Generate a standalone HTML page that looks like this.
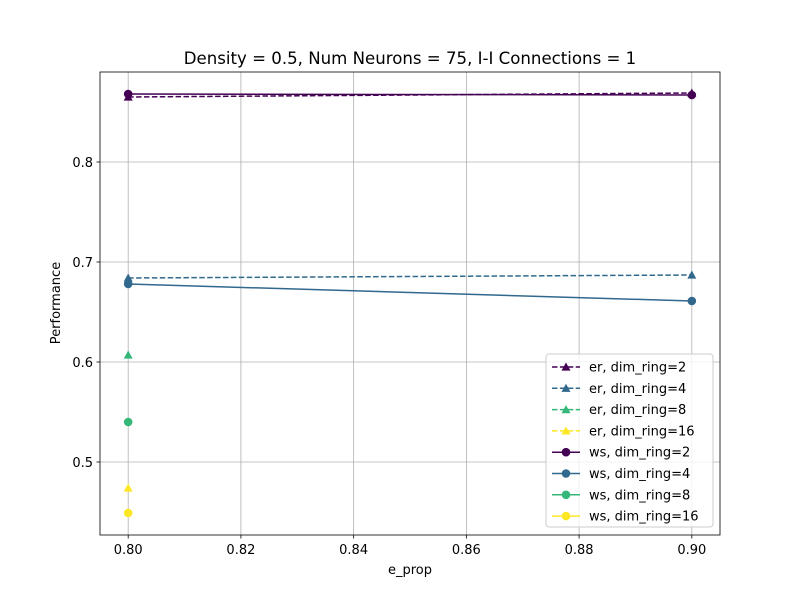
<!DOCTYPE html>
<html><head><meta charset="utf-8"><style>
body{margin:0;background:#fff}
svg{font-family:"DejaVu Sans","Liberation Sans",sans-serif}
</style></head><body>
<svg id="chart" width="800" height="600" xmlns="http://www.w3.org/2000/svg">
<rect width="800" height="600" fill="#fff"/>
<g id="grid"></g>
<g id="axes"></g>
<g id="series"></g>
<g id="legend"></g>
</svg>
<script>
const xCats = [0.80, 0.90];
const xTicks = [0.80, 0.82, 0.84, 0.86, 0.88, 0.90];
const yTicks = [0.5, 0.6, 0.7, 0.8];
const seriesNames = ["er, dim_ring=2","er, dim_ring=4","er, dim_ring=8","er, dim_ring=16","ws, dim_ring=2","ws, dim_ring=4","ws, dim_ring=8","ws, dim_ring=16"];
const er2 = [0.865, 0.869];
const er4 = [0.684, 0.687];
const er8 = [0.607];
const er16 = [0.474];
const ws2 = [0.868, 0.867];
const ws4 = [0.678, 0.661];
const ws8 = [0.540];
const ws16 = [0.449];
const colors = ["#440154","#31688e","#35b779","#fde725"];

const NS="http://www.w3.org/2000/svg";
const L=100,R=720,T=72,B=535;
const xMin=0.795,xMax=0.905;
const sx=v=>L+(v-xMin)/(xMax-xMin)*(R-L);
const sy=v=>162-(v-0.8)*1000;
function mk(tag,attrs,parent,text){const e=document.createElementNS(NS,tag);for(const k in attrs)e.setAttribute(k,attrs[k]);if(text!==undefined)e.textContent=text;parent.appendChild(e);return e;}
const grid=document.getElementById('grid'),axes=document.getElementById('axes'),ser=document.getElementById('series'),leg=document.getElementById('legend');

xTicks.forEach(t=>{const x=sx(t);
 const g=mk('line',{x1:x,x2:x,y1:T,y2:B,stroke:'#b0b0b0','stroke-width':0.8},grid);
 
 mk('line',{x1:x,x2:x,y1:B,y2:B+3.5,stroke:'#000','stroke-width':0.8},axes);
 const tl=mk('text',{x:x,y:B+19,'font-size':13,'text-anchor':'middle'},axes,t.toFixed(2));
 });
yTicks.forEach(t=>{const y=sy(t);
 const g=mk('line',{x1:L,x2:R,y1:y,y2:y,stroke:'#b0b0b0','stroke-width':0.8},grid);
 
 mk('line',{x1:L-3.5,x2:L,y1:y,y2:y,stroke:'#000','stroke-width':0.8},axes);
 const tl=mk('text',{x:L-7,y:y+5,'font-size':13,'text-anchor':'end'},axes,t.toFixed(1));
 });
const frame=mk('rect',{x:L,y:T,width:R-L,height:B-T,fill:'none',stroke:'#000','stroke-width':0.8},axes);

const title=mk('text',{x:410,y:64,'font-size':16.6,'text-anchor':'middle'},axes,'Density = 0.5, Num Neurons = 75, I-I Connections = 1');

const xt=mk('text',{x:410,y:574,'font-size':13,'text-anchor':'middle'},axes,'e_prop');

const yt=mk('text',{x:0,y:0,'font-size':13,'text-anchor':'middle',transform:'translate(60,303) rotate(-90)'},axes,'Performance');


function tri(cx,cy,s,c,p){return mk('polygon',{points:`${cx},${cy-s} ${cx-s},${cy+s*0.8} ${cx+s},${cy+s*0.8}`,fill:c},p);}
const all=[er2,er4,er8,er16,ws2,ws4,ws8,ws16];
all.forEach((vals,i)=>{const c=colors[i%4],er=i<4;
 const g=mk('g',{},ser);
 
 
 if(vals.length>1){const pts=vals.map((v,j)=>sx(xCats[j])+','+sy(v)).join(' ');
  mk('polyline',{points:pts,fill:'none',stroke:c,'stroke-width':1.5,'stroke-dasharray':er?'5.5,2.4':''},g);}
 vals.forEach((v,j)=>{const m=er?tri(sx(xCats[j]),sy(v),4.5,c,g):mk('circle',{cx:sx(xCats[j]),cy:sy(v),r:4.3,fill:c},g);
  });
});
const lb=mk('rect',{x:546,y:354,width:167,height:173,rx:3,fill:'#fff','fill-opacity':0.8,stroke:'#ccc','stroke-width':1},leg);

seriesNames.forEach((n,i)=>{const y=367+i*21.3,c=colors[i%4],er=i<4;
 const g=mk('g',{},leg);
 
 mk('line',{x1:552,x2:580,y1:y,y2:y,stroke:c,'stroke-width':1.5,'stroke-dasharray':er?'5.5,2.4':''},g);
 if(er)tri(566,y,4.5,c,g);else mk('circle',{cx:566,cy:y,r:4.3,fill:c},g);
 mk('text',{x:589,y:y+4.5,'font-size':13},g,n);});
</script>
</body></html>
